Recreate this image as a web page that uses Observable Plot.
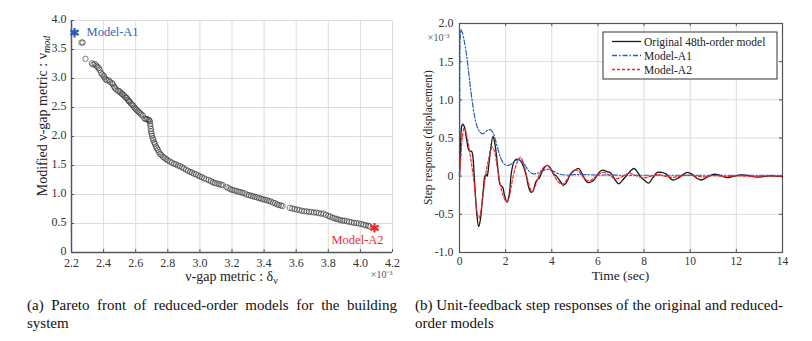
<!DOCTYPE html>
<html><head><meta charset="utf-8">
<script src="https://cdn.jsdelivr.net/npm/d3@7"></script>
<script src="https://cdn.jsdelivr.net/npm/@observablehq/plot@0.6"></script>
<style>
body{margin:0;background:#fff;}
#root{position:relative;width:812px;height:341px;overflow:hidden;font-family:"Liberation Serif","Times New Roman",serif;background:#fff;}
.pane{position:absolute;top:0;}
.pane svg, .pane svg text{font-family:"Liberation Serif","Times New Roman",serif !important;}
.cap{position:absolute;font-size:15px;line-height:18px;color:#111;}
.cap .j{text-align:justify;text-align-last:justify;white-space:nowrap;}
</style>
</head><body>
<div id="root">
  <div id="left" class="pane" style="left:0"></div>
  <div id="right" class="pane" style="left:400px"></div>
  <div class="cap" style="left:27px;top:296px;width:370px">
    <div class="j">(a) Pareto front of reduced-order models for the building</div>
    <div>system</div>
  </div>
  <div class="cap" style="left:415px;top:296px;width:368px">
    <div class="j">(b) Unit-feedback step responses of the original and reduced-</div>
    <div>order models</div>
  </div>
</div>
<script>
// ---------- Chart (a) data ----------
const paretoGap = [2.262,2.270,2.287,2.327,2.335,2.345,2.355,2.362,2.370,2.375,2.383,2.391,2.400,2.405,2.412,2.420,2.432,2.440,2.452,2.458,2.465,2.470,2.478,2.490,2.500,2.505,2.512,2.518,2.525,2.532,2.540,2.545,2.552,2.558,2.563,2.570,2.578,2.585,2.592,2.598,2.605,2.612,2.620,2.628,2.635,2.645,2.655,2.662,2.670,2.678,2.684,2.688,2.690,2.692,2.694,2.696,2.698,2.702,2.706,2.710,2.715,2.720,2.726,2.732,2.738,2.745,2.752,2.760,2.770,2.780,2.790,2.800,2.812,2.825,2.838,2.850,2.862,2.875,2.888,2.900,2.912,2.925,2.938,2.950,2.962,2.975,2.988,3.000,3.012,3.025,3.040,3.055,3.068,3.080,3.092,3.105,3.118,3.130,3.142,3.165,3.178,3.190,3.202,3.215,3.228,3.240,3.252,3.265,3.278,3.290,3.305,3.318,3.330,3.342,3.355,3.368,3.380,3.392,3.405,3.418,3.430,3.442,3.455,3.468,3.480,3.492,3.505,3.515,3.560,3.575,3.590,3.605,3.620,3.635,3.650,3.665,3.680,3.695,3.710,3.725,3.740,3.755,3.770,3.785,3.800,3.812,3.825,3.838,3.850,3.862,3.875,3.888,3.900,3.915,3.930,3.945,3.960,3.975,3.990,4.005,4.020,4.035,4.048,4.058];
const paretoMod = [3.62,3.62,3.34,3.26,3.24,3.25,3.22,3.20,3.18,3.15,3.10,3.07,3.05,3.02,2.99,2.97,2.97,2.94,2.92,2.90,2.86,2.84,2.81,2.79,2.78,2.76,2.74,2.73,2.71,2.69,2.67,2.66,2.63,2.61,2.60,2.57,2.55,2.53,2.50,2.48,2.46,2.44,2.42,2.40,2.38,2.36,2.31,2.30,2.30,2.29,2.28,2.26,2.22,2.18,2.13,2.09,2.05,2.01,1.97,1.94,1.90,1.87,1.83,1.80,1.77,1.73,1.70,1.68,1.65,1.63,1.61,1.59,1.57,1.55,1.53,1.52,1.50,1.49,1.47,1.45,1.43,1.41,1.39,1.38,1.36,1.35,1.33,1.31,1.30,1.28,1.26,1.25,1.23,1.21,1.20,1.19,1.18,1.17,1.16,1.13,1.11,1.09,1.08,1.07,1.06,1.05,1.04,1.03,1.02,1.00,0.99,0.98,0.97,0.96,0.95,0.94,0.93,0.92,0.91,0.90,0.89,0.88,0.86,0.85,0.83,0.82,0.81,0.80,0.77,0.76,0.75,0.74,0.73,0.72,0.71,0.71,0.70,0.70,0.69,0.69,0.68,0.67,0.67,0.65,0.63,0.62,0.60,0.59,0.58,0.57,0.56,0.55,0.55,0.54,0.53,0.52,0.51,0.51,0.50,0.49,0.48,0.47,0.46,0.45];
const modelA1 = {name:"Model-A1", gap:2.219, mod:3.79};
const modelA2 = {name:"Model-A2", gap:4.088, mod:0.425};
const gapTicks = [2.2,2.4,2.6,2.8,3.0,3.2,3.4,3.6,3.8,4.0,4.2];
const modTicks = [0,0.5,1.0,1.5,2.0,2.5,3.0,3.5,4.0];

// ---------- Chart (b) data ----------
const tOrig = [0,0.04,0.10,0.15,0.22,0.30,0.38,0.45,0.52,0.57,0.63,0.68,0.75,0.83,0.90,0.97,1.04,1.10,1.16,1.20,1.26,1.35,1.45,1.52,1.60,1.68,1.75,1.82,1.88,1.95,2.06,2.15,2.25,2.35,2.45,2.55,2.65,2.78,2.90,3.00,3.10,3.18,3.28,3.36,3.45,3.55,3.70,3.82,3.95,4.08,4.20,4.35,4.50,4.62,4.80,5.00,5.17,5.30,5.45,5.55,5.75,5.90,6.05,6.20,6.40,6.55,6.75,6.90,7.10,7.30,7.45,7.58,7.72,7.85,8.00,8.20,8.38,8.57,8.75,8.95,9.10,9.25,9.45,9.60,9.87,10.10,10.30,10.50,10.75,11.05,11.30,11.60,11.90,12.20,12.50,12.80,13.10,13.40,13.70,14.00];
const yOrig = [0,0.30,0.66,0.68,0.64,0.50,0.36,0.32,0.33,0.28,0.05,-0.20,-0.50,-0.66,-0.58,-0.38,-0.15,0.00,0.02,0.00,0.12,0.35,0.52,0.45,0.28,0.05,-0.10,-0.13,-0.15,-0.25,-0.34,-0.25,0.05,0.18,0.22,0.22,0.20,0.12,0.00,-0.15,-0.21,-0.20,-0.10,-0.05,-0.03,0.04,0.12,0.14,0.10,0.03,0.00,-0.06,-0.12,-0.09,0.02,0.08,0.10,0.04,-0.05,-0.08,-0.07,-0.02,0.05,0.08,0.06,0.04,-0.05,-0.10,-0.04,0.03,0.08,0.10,0.05,-0.01,-0.05,-0.09,-0.02,0.05,0.05,0.03,-0.02,-0.05,-0.03,0.00,0.05,0.02,-0.03,-0.05,-0.01,0.025,0.01,-0.02,0.00,0.015,0.01,-0.01,-0.01,0.005,0.00,-0.005];
const tA1 = [0,0.01,0.03,0.06,0.12,0.20,0.30,0.40,0.50,0.60,0.70,0.80,0.90,1.00,1.10,1.20,1.33,1.45,1.55,1.65,1.77,1.90,2.00,2.10,2.25,2.40,2.56,2.70,2.85,3.00,3.20,3.40,3.60,3.87,4.10,4.30,4.60,5.00,5.50,6.00,6.50,7.00,8.00,9.00,10.00,11.00,12.00,13.00,14.00];
const yA1 = [0,1.00,1.80,1.92,1.88,1.78,1.60,1.35,1.10,0.88,0.72,0.62,0.57,0.555,0.57,0.60,0.61,0.57,0.48,0.37,0.25,0.17,0.145,0.14,0.16,0.20,0.215,0.20,0.14,0.07,0.03,0.04,0.07,0.09,0.06,0.03,0.015,0.02,0.02,0.015,0.015,0.012,0.012,0.012,0.012,0.012,0.012,0.012,0.012];
const tA2 = [0,0.05,0.12,0.20,0.26,0.35,0.45,0.55,0.62,0.70,0.78,0.85,0.93,1.04,1.15,1.26,1.35,1.43,1.52,1.62,1.73,1.84,1.95,2.06,2.15,2.25,2.35,2.50,2.64,2.78,2.93,3.05,3.15,3.28,3.43,3.60,3.80,3.98,4.15,4.30,4.45,4.60,4.80,5.00,5.15,5.30,5.50,5.65,5.85,6.05,6.25,6.45,6.65,6.85,7.10,7.35,7.55,7.85,8.05,8.30,8.60,8.90,9.20,9.50,9.80,10.20,10.60,11.00,11.50,12.00,12.60,13.20,14.00];
const yA2 = [0,0.20,0.50,0.63,0.60,0.48,0.30,0.10,-0.05,-0.30,-0.50,-0.55,-0.45,-0.20,0.05,0.22,0.34,0.38,0.32,0.15,-0.05,-0.20,-0.30,-0.34,-0.28,-0.12,0.03,0.18,0.25,0.16,-0.02,-0.15,-0.20,-0.13,0.00,0.10,0.14,0.07,-0.02,-0.08,-0.11,-0.07,0.03,0.08,0.07,0.01,-0.05,-0.06,-0.02,0.03,0.05,0.02,-0.02,-0.03,0.00,0.04,0.02,-0.015,-0.02,0.00,0.02,0.00,-0.015,-0.005,0.012,0.005,-0.01,0.008,-0.005,0.005,-0.003,0.002,0.00];
const timeTicks = [0,2,4,6,8,10,12,14];
const respTicks = [-1.0,-0.5,0,0.5,1.0,1.5,2.0];
const seriesNames = ["Original 48th-order model","Model-A1","Model-A2"];
const seriesColors = ["#1a1a1a","#2b5cb0","#f2262d"];
const seriesDash = [null,"5,2,1.5,2","3,2"];

const fmt1 = d => d === 0 ? "0" : d.toFixed(1);
const serif = "'Liberation Serif', 'Times New Roman', serif";

// ---------- Chart (a) ----------
{
  const W = 400, H = 290, mL = 71, mR = 8, mT = 20, mB = 38;
  const pw = W - mL - mR, ph = H - mT - mB;
  const pts = paretoGap.map((g,i)=>({gap:g, mod:paretoMod[i]}));
  const xDom = [gapTicks[0], gapTicks[gapTicks.length-1]];
  const yDom = [modTicks[0], modTicks[modTicks.length-1]];
  const svg = Plot.plot({
    width: W, height: H, marginLeft: mL, marginRight: mR, marginTop: mT, marginBottom: mB,
    style: {fontFamily: serif, fontSize: "12px", color: "#333", background: "transparent"},
    x: {domain: xDom}, y: {domain: yDom},
    marks: [
      Plot.gridX(gapTicks, {stroke: "#dcdcdc", strokeOpacity: 1}),
      Plot.gridY(modTicks, {stroke: "#dcdcdc", strokeOpacity: 1}),
      Plot.ruleX(gapTicks, {insetTop: ph - 3, stroke: "#555"}),
      Plot.ruleY(modTicks, {insetRight: pw - 3, stroke: "#555"}),
      Plot.ruleX([xDom[0]], {stroke: "#555", strokeWidth: 1.5}),
      Plot.ruleY([yDom[0]], {stroke: "#555", strokeWidth: 1.5}),
      Plot.axisX(gapTicks, {tickSize: 0, tickPadding: 6, tickFormat: d => d.toFixed(1), label: null, fontSize: 12, fontFamily: serif, fill: "#333"}),
      Plot.axisY(modTicks, {tickSize: 0, tickPadding: 5, dy: -1.5, tickFormat: fmt1, label: null, fontSize: 12, fontFamily: serif, fill: "#333"}),
      Plot.dot(pts, {x: "gap", y: "mod", r: 2.7, stroke: "#2a2a2a", strokeWidth: 0.8, strokeOpacity: 0.75, fill: "none"}),
      Plot.dot([modelA1], {x: "gap", y: "mod", symbol: "asterisk", r: 4.5, stroke: "#2b5cb0", strokeWidth: 2.2}),
      Plot.dot([modelA2], {x: "gap", y: "mod", symbol: "asterisk", r: 4.5, stroke: "#f2262d", strokeWidth: 2.2}),
      Plot.text([modelA1], {x: "gap", y: "mod", text: "name", dx: 12, dy: -1, textAnchor: "start", fill: "#3561b5", fontSize: 12.5, fontFamily: serif}),
      Plot.text([modelA2], {x: "gap", y: "mod", text: "name", dx: -17, dy: 12, textAnchor: "middle", fill: "#f0283c", fontSize: 12.5, fontFamily: serif}),
      Plot.text(["×10⁻³"], {frameAnchor: "bottom-right", dy: 25, textAnchor: "end", fill: "#555", fontSize: 10, fontFamily: serif})
    ]
  });
  const s = d3.select(svg);
  const xt = s.append("text").attr("x", mL + pw/2).attr("y", 281).attr("text-anchor", "middle")
    .attr("font-size", 14).attr("fill", "#222").attr("font-family", serif);
  xt.append("tspan").text("ν-gap metric : δ");
  xt.append("tspan").attr("dy", 3).attr("font-size", 10).text("ν");
  const yt = s.append("text").attr("transform", `translate(47,116) rotate(-90)`).attr("text-anchor", "middle")
    .attr("font-size", 14).attr("fill", "#222").attr("font-family", serif);
  yt.append("tspan").text("Modified ν-gap metric : ν");
  yt.append("tspan").attr("dy", 3).attr("font-size", 10).attr("font-style", "italic").text("mod");
  document.getElementById("left").appendChild(svg);
}

// ---------- Chart (b) ----------
{
  const W = 412, H = 290, mL = 59, mR = 30, mT = 23, mB = 38;
  const pw = W - mL - mR, ph = H - mT - mB;
  const xDom = [timeTicks[0], timeTicks[timeTicks.length-1]];
  const yDom = [respTicks[0], respTicks[respTicks.length-1]];
  const orig = tOrig.map((t,i)=>({t, v: yOrig[i]}));
  const a1 = tA1.map((t,i)=>({t, v: yA1[i]}));
  const a2 = tA2.map((t,i)=>({t, v: yA2[i]}));
  const svg = Plot.plot({
    width: W, height: H, marginLeft: mL, marginRight: mR, marginTop: mT, marginBottom: mB,
    style: {fontFamily: serif, fontSize: "12px", color: "#333", background: "transparent"},
    x: {domain: xDom}, y: {domain: yDom},
    marks: [
      Plot.gridX(timeTicks, {stroke: "#dcdcdc", strokeOpacity: 1}),
      Plot.gridY(respTicks, {stroke: "#dcdcdc", strokeOpacity: 1}),
      Plot.ruleX(timeTicks, {insetTop: ph - 3, stroke: "#555"}),
      Plot.ruleX(timeTicks, {insetBottom: ph - 3, stroke: "#555"}),
      Plot.ruleY(respTicks, {insetRight: pw - 3, stroke: "#555"}),
      Plot.ruleY(respTicks, {insetLeft: pw - 3, stroke: "#555"}),
      Plot.frame({stroke: "#555", strokeWidth: 1.2}),
      Plot.axisX(timeTicks, {tickSize: 0, tickPadding: 4, tickFormat: d => String(d), label: null, fontSize: 11.5, fontFamily: serif, fill: "#333"}),
      Plot.axisY(respTicks, {tickSize: 0, tickPadding: 6, tickFormat: fmt1, label: null, fontSize: 12, fontFamily: serif, fill: "#333"}),
      Plot.line(orig, {x: "t", y: "v", curve: "catmull-rom", stroke: seriesColors[0], strokeWidth: 1.3}),
      Plot.line(a1, {x: "t", y: "v", curve: "catmull-rom", stroke: seriesColors[1], strokeWidth: 1.2, strokeDasharray: seriesDash[1]}),
      Plot.line(a2, {x: "t", y: "v", curve: "catmull-rom", stroke: seriesColors[2], strokeWidth: 1.2, strokeDasharray: seriesDash[2]}),
      Plot.text(["×10⁻³"], {frameAnchor: "top-left", dx: -10, dy: 10, textAnchor: "end", fill: "#555", fontSize: 10, fontFamily: serif})
    ]
  });
  const s = d3.select(svg);
  s.append("text").attr("x", mL + pw/2).attr("y", 280).attr("text-anchor", "middle")
    .attr("font-size", 13.5).attr("fill", "#222").attr("font-family", serif).text("Time (sec)");
  s.append("text").attr("transform", `translate(32,${mT + ph/2}) rotate(-90)`).attr("text-anchor", "middle")
    .attr("font-size", 11.5).attr("fill", "#222").attr("font-family", serif).text("Step response (displacement)");
  // legend box
  const lg = s.append("g").attr("transform", "translate(203,32)").attr("text-anchor", "start");
  lg.append("rect").attr("width", 174).attr("height", 47).attr("fill", "#fff").attr("stroke", "#333").attr("stroke-width", 1);
  seriesNames.forEach((n, i) => {
    const y = 9.5 + i * 14;
    lg.append("line").attr("x1", 9).attr("x2", 38).attr("y1", y).attr("y2", y)
      .attr("stroke", seriesColors[i]).attr("stroke-width", 1.3)
      .attr("stroke-dasharray", seriesDash[i]);
    lg.append("text").attr("x", 41).attr("y", y).attr("dy", "0.35em").attr("text-anchor", "start")
      .attr("font-size", 11.5).attr("fill", "#222").attr("font-family", serif).text(n);
  });
  document.getElementById("right").appendChild(svg);
}
</script>
</body></html>
